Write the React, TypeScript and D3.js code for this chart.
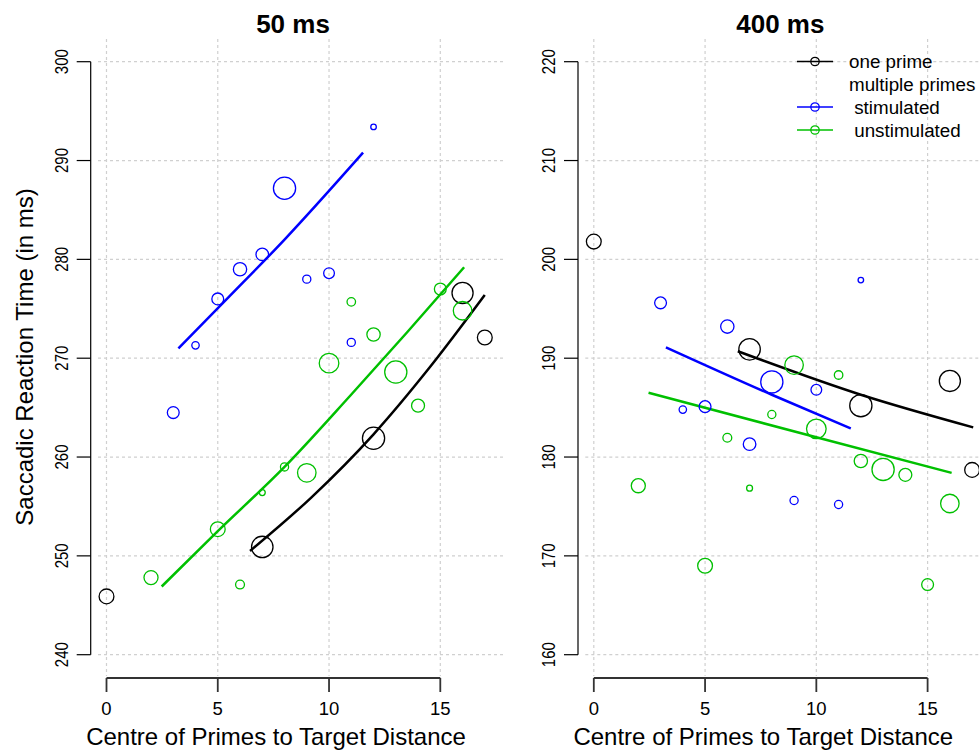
import React, { useEffect, useRef } from 'react';
import * as d3 from 'd3';

// ---- data ----
const panelTitles = ['50 ms', '400 ms'];
const xTicks = [0, 5, 10, 15];
const yTicks50 = [240, 250, 260, 270, 280, 290, 300];
const yTicks400 = [160, 170, 180, 190, 200, 210, 220];

// one prime (black)
const oneDist = [0, 7, 12, 16, 17];
const oneCex = [2.0, 2.9, 3.0, 2.85, 2.0];
const one50 = [245.9, 250.9, 261.9, 276.6, 272.1];
const one400 = [201.8, 190.9, 185.2, 187.7, 178.7];

// multiple primes, stimulated (blue)
const stimDist = [3, 4, 5, 6, 7, 8, 9, 10, 11, 12];
const stimCex = [1.6, 1.0, 1.6, 1.8, 1.7, 3.0, 1.1, 1.45, 1.1, 0.75];
const stim50 = [264.5, 271.3, 276.0, 279.0, 280.5, 287.2, 278.0, 278.6, 271.6, 293.4];
const stim400 = [195.6, 184.8, 185.1, 193.2, 181.3, 187.6, 175.6, 186.8, 175.2, 197.9];

// multiple primes, unstimulated (green)
const unstimDist = [2, 5, 6, 7, 8, 9, 10, 11, 12, 13, 14, 15, 16];
const unstimCex = [1.9, 2.0, 1.2, 0.8, 1.1, 2.5, 2.65, 1.15, 1.8, 3.0, 1.75, 1.6, 2.5];
const unstim50 = [247.8, 252.7, 247.1, 256.4, 259.0, 258.4, 269.5, 275.7, 272.4, 268.6, 265.2, 277.0, 274.8];
const unstim400 = [177.1, 169.0, 181.95, 176.85, 184.3, 189.3, 182.85, 188.3, 179.6, 178.75, 178.2, 167.1, 175.3];

// fitted curves (x, y)
const oneFit50 = [[6.45, 250.5], [9.2, 255.9], [12, 262.3], [14.5, 269.0], [17, 276.4]];
const stimFit50 = [[3.23, 271.0], [5.5, 276.2], [8, 282.0], [11.53, 290.8]];
const unstimFit50 = [[2.48, 246.9], [5, 252.5], [8, 259.0], [10.95, 266.2], [13.5, 272.6], [16.07, 279.2]];
const oneFit400 = [[6.47, 190.7], [12, 186.3], [17.05, 183.0]];
const stimFit400 = [[3.24, 191.1], [8, 186.3], [11.55, 182.9]];
const unstimFit400 = [[2.46, 186.5], [10, 182.0], [16.08, 178.4]];

const legendLabels = ['one prime', 'multiple primes', ' stimulated', ' unstimulated'];
const legendColors = ['black', null, 'blue', '#00c000'];

const FONT = 'Liberation Sans, Arial, Helvetica, sans-serif';

const App = () => {
  const svgRef = useRef(null);

  useEffect(() => {
    const svg = d3.select(svgRef.current);
    svg.selectAll('*').remove();
    const width = 979;
    const height = 752;
    svg.attr('width', width).attr('height', height);

    const panelDx = 487.3;
    const x = d3.scaleLinear().domain([0, 15]).range([106.5, 440.3]);
    const r = d3.scaleLinear().domain([0, 1]).range([0, 3.7]);

    const groups = [
      { color: 'black', dist: oneDist, cex: oneCex, vals: [one50, one400], fits: [oneFit50, oneFit400] },
      { color: 'blue', dist: stimDist, cex: stimCex, vals: [stim50, stim400], fits: [stimFit50, stimFit400] },
      { color: '#00c000', dist: unstimDist, cex: unstimCex, vals: [unstim50, unstim400], fits: [unstimFit50, unstimFit400] },
    ];

    const yTickSets = [yTicks50, yTicks400];

    panelTitles.forEach((title, p) => {
      const ticks = yTickSets[p];
      const y = d3.scaleLinear().domain(d3.extent(ticks)).range([654.7, 61.7]);
      const g = svg.append('g').attr('transform', `translate(${p * panelDx},0)`);

      // grid
      g.append('g')
        .selectAll('line')
        .data(ticks)
        .enter()
        .append('line')
        .attr('x1', 98)
        .attr('x2', 505)
        .attr('y1', (d) => y(d))
        .attr('y2', (d) => y(d))
        .attr('stroke', '#d0d0d0')
        .attr('stroke-width', 1.2)
        .attr('stroke-dasharray', '3,3');
      g.append('g')
        .selectAll('line')
        .data(xTicks)
        .enter()
        .append('line')
        .attr('x1', (d) => x(d))
        .attr('x2', (d) => x(d))
        .attr('y1', 39)
        .attr('y2', 676)
        .attr('stroke', '#d0d0d0')
        .attr('stroke-width', 1.2)
        .attr('stroke-dasharray', '3,3');

      // y axis
      const yAxisX = 90.7;
      g.append('line')
        .attr('x1', yAxisX)
        .attr('x2', yAxisX)
        .attr('y1', y(ticks[0]))
        .attr('y2', y(ticks[ticks.length - 1]))
        .attr('stroke', 'black')
        .attr('stroke-width', 1.2);
      g.append('g')
        .selectAll('line')
        .data(ticks)
        .enter()
        .append('line')
        .attr('x1', yAxisX - 14)
        .attr('x2', yAxisX)
        .attr('y1', (d) => y(d))
        .attr('y2', (d) => y(d))
        .attr('stroke', 'black')
        .attr('stroke-width', 1.2);
      g.append('g')
        .selectAll('text')
        .data(ticks)
        .enter()
        .append('text')
        .attr('transform', (d) => `translate(68,${y(d)}) rotate(-90)`)
        .attr('text-anchor', 'middle')
        .attr('textLength', 25)
        .attr('lengthAdjust', 'spacingAndGlyphs')
        .style('font-family', FONT)
        .style('font-size', '18.5px')
        .text((d) => d);

      // x axis
      const xAxisY = 678;
      g.append('line')
        .attr('x1', x(xTicks[0]))
        .attr('x2', x(xTicks[xTicks.length - 1]))
        .attr('y1', xAxisY)
        .attr('y2', xAxisY)
        .attr('stroke', '#333')
        .attr('stroke-width', 2.2);
      g.append('g')
        .selectAll('line')
        .data(xTicks)
        .enter()
        .append('line')
        .attr('x1', (d) => x(d))
        .attr('x2', (d) => x(d))
        .attr('y1', xAxisY)
        .attr('y2', xAxisY + 14)
        .attr('stroke', '#333')
        .attr('stroke-width', 1.8);
      g.append('g')
        .selectAll('text')
        .data(xTicks)
        .enter()
        .append('text')
        .attr('x', (d) => x(d))
        .attr('y', 715)
        .attr('text-anchor', 'middle')
        .style('font-family', FONT)
        .style('font-size', '18.5px')
        .text((d) => d);
      g.append('text')
        .attr('x', 276)
        .attr('y', 745)
        .attr('text-anchor', 'middle')
        .style('font-family', FONT)
        .style('font-size', '24px')
        .text('Centre of Primes to Target Distance');

      // title
      g.append('text')
        .attr('x', 293)
        .attr('y', 33)
        .attr('text-anchor', 'middle')
        .style('font-family', FONT)
        .style('font-size', '26px')
        .style('font-weight', 'bold')
        .text(title);

      // fitted curves
      const line = d3
        .line()
        .x((d) => x(d[0]))
        .y((d) => y(d[1]))
        .curve(d3.curveMonotoneX);
      groups.forEach((grp) => {
        g.append('path')
          .datum(grp.fits[p])
          .attr('d', line)
          .attr('fill', 'none')
          .attr('stroke', grp.color)
          .attr('stroke-width', 2.5);
      });

      // points
      groups.forEach((grp) => {
        g.append('g')
          .selectAll('circle')
          .data(grp.dist)
          .enter()
          .append('circle')
          .attr('cx', (d) => x(d))
          .attr('cy', (d, i) => y(grp.vals[p][i]))
          .attr('r', (d, i) => r(grp.cex[i]))
          .attr('fill', 'none')
          .attr('stroke', grp.color)
          .attr('stroke-width', 1.3);
      });
    });

    // y axis title (left panel only)
    svg
      .append('text')
      .attr('transform', 'translate(33,357) rotate(-90)')
      .attr('text-anchor', 'middle')
      .style('font-family', FONT)
      .style('font-size', '24px')
      .text('Saccadic Reaction Time (in ms)');

    // legend
    const legend = svg.append('g');
    const rowY = [61.5, 84.5, 107, 130];
    legendLabels.forEach((label, i) => {
      const c = legendColors[i];
      if (c) {
        legend
          .append('line')
          .attr('x1', 797)
          .attr('x2', 833)
          .attr('y1', rowY[i])
          .attr('y2', rowY[i])
          .attr('stroke', c)
          .attr('stroke-width', 1.4);
        legend
          .append('circle')
          .attr('cx', 815)
          .attr('cy', rowY[i])
          .attr('r', 4.2)
          .attr('fill', 'none')
          .attr('stroke', c)
          .attr('stroke-width', 1.3);
      }
      legend
        .append('text')
        .attr('x', 849)
        .attr('y', rowY[i])
        .attr('dy', '0.35em')
        .style('white-space', 'pre')
        .style('font-family', FONT)
        .style('font-size', '18.8px')
        .text(label);
    });
  }, []);

  return <svg ref={svgRef} style={{ position: 'absolute', left: 0, top: 0 }}></svg>;
};

export default App;
